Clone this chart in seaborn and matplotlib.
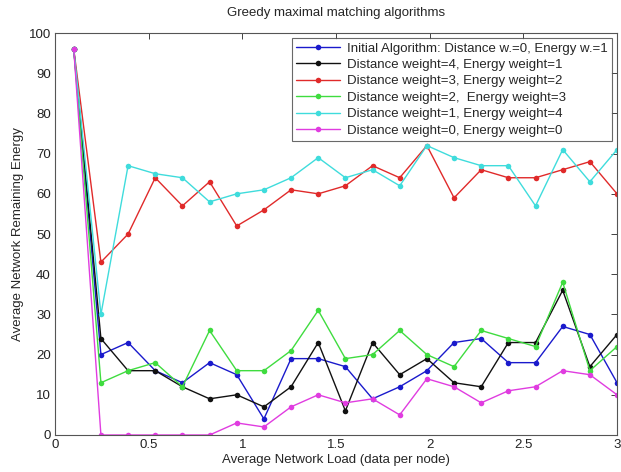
import matplotlib
matplotlib.use("Agg")
import matplotlib.pyplot as plt
import seaborn as sns
import pandas as pd

load = [0.1, 0.245, 0.39, 0.535, 0.68, 0.825, 0.97, 1.115, 1.26, 1.405, 1.55,
        1.695, 1.84, 1.985, 2.13, 2.275, 2.42, 2.565, 2.71, 2.855, 3.0]

initial = [96, 20, 23, 16, 13, 18, 15, 4, 19, 19, 17, 9, 12, 16, 23, 24, 18, 18, 27, 25, 13]
dw4_ew1 = [96, 24, 16, 16, 12, 9, 10, 7, 12, 23, 6, 23, 15, 19, 13, 12, 23, 23, 36, 17, 25]
dw3_ew2 = [96, 43, 50, 64, 57, 63, 52, 56, 61, 60, 62, 67, 64, 72, 59, 66, 64, 64, 66, 68, 60]
dw2_ew3 = [96, 13, 16, 18, 12, 26, 16, 16, 21, 31, 19, 20, 26, 20, 17, 26, 24, 22, 38, 16, 22]
dw1_ew4 = [96, 30, 67, 65, 64, 58, 60, 61, 64, 69, 64, 66, 62, 72, 69, 67, 67, 57, 71, 63, 71]
dw0_ew0 = [96, 0, 0, 0, 0, 0, 3, 2, 7, 10, 8, 9, 5, 14, 12, 8, 11, 12, 16, 15, 10]

labels = [
    "Initial Algorithm: Distance w.=0, Energy w.=1",
    "Distance weight=4, Energy weight=1",
    "Distance weight=3, Energy weight=2",
    "Distance weight=2,  Energy weight=3",
    "Distance weight=1, Energy weight=4",
    "Distance weight=0, Energy weight=0",
]
series = [initial, dw4_ew1, dw3_ew2, dw2_ew3, dw1_ew4, dw0_ew0]
colors = ["#1a1acc", "#111111", "#e02a2a", "#3fdc3f", "#3fdcdc", "#e03ce0"]

frames = []
for lab, vals in zip(labels, series):
    frames.append(pd.DataFrame({"load": load, "energy": vals, "series": lab}))
df = pd.concat(frames, ignore_index=True)

sns.set_theme(style="white")
plt.rcParams["font.family"] = ["Liberation Sans", "DejaVu Sans"]

fig = plt.figure(figsize=(6.21, 4.72), dpi=100)
ax = fig.add_axes([0.0886, 0.0784, 0.9050, 0.8516])

sns.lineplot(data=df, x="load", y="energy", hue="series", hue_order=labels,
             palette=dict(zip(labels, colors)), marker="o", markersize=4,
             markeredgewidth=0, linewidth=1.0, ax=ax, legend=True, sort=False)

ax.set_xlim(0, 3)
ax.set_ylim(0, 100)
ax.set_xticks([0, 0.5, 1, 1.5, 2, 2.5, 3])
ax.set_xticklabels(["0", "0.5", "1", "1.5", "2", "2.5", "3"])
ax.set_yticks(range(0, 101, 10))
ax.tick_params(direction="in", top=True, right=True, length=4, width=0.6,
               labelsize=9.5, colors="#222222", pad=3)
for s in ax.spines.values():
    s.set_color("#555555")
    s.set_linewidth(0.8)

ax.set_title("Greedy maximal matching algorithms", fontsize=9.5, pad=12)
ax.set_xlabel("Average Network Load (data per node)", fontsize=9.5, labelpad=2)
ax.set_ylabel("Average Network Remaining Energy", fontsize=9.5, labelpad=3)

leg = ax.legend(loc="upper right", fontsize=9.5, frameon=True, fancybox=False,
                borderpad=0.3, labelspacing=0.32, handlelength=3.4,
                handletextpad=0.5, borderaxespad=0.4)
leg.get_frame().set_edgecolor("#444444")
leg.get_frame().set_linewidth(0.8)

fig.savefig("out.png", dpi=100)
